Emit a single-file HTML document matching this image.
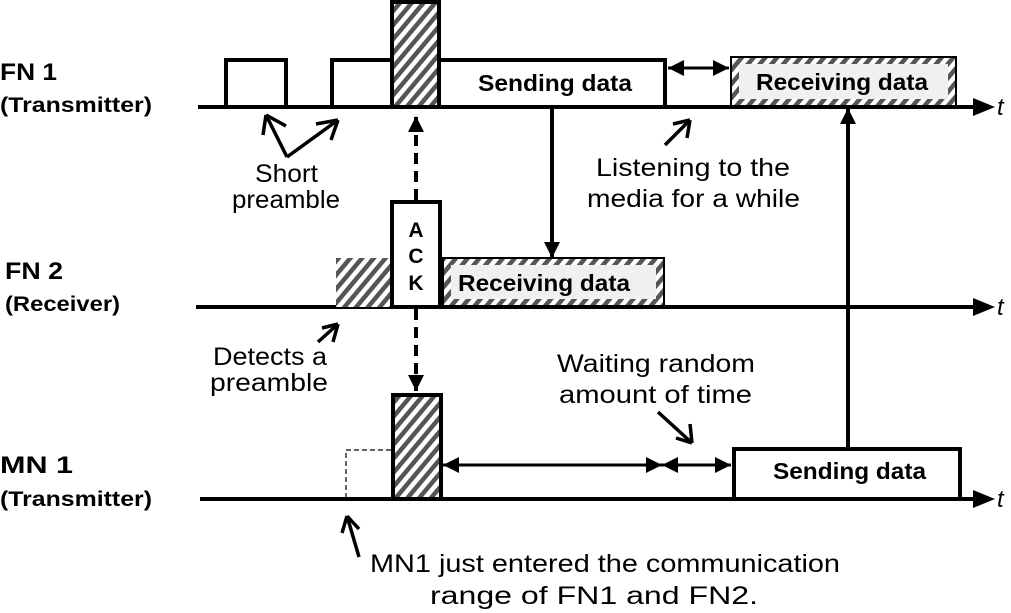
<!DOCTYPE html>
<html><head><meta charset="utf-8"><style>
html,body{margin:0;padding:0;background:#fff;}
svg{display:block;}
text{font-family:"Liberation Sans",sans-serif;}
</style></head><body>
<svg width="1011" height="613" viewBox="0 0 1011 613" xmlns="http://www.w3.org/2000/svg">
<defs>
<pattern id="h" patternUnits="userSpaceOnUse" width="9" height="9" patternTransform="rotate(40)">
<rect width="9" height="9" fill="#fff"/><rect width="4.5" height="9" fill="#555"/>
</pattern>
<marker id="A" viewBox="0 0 10 10" markerWidth="18" markerHeight="16" refX="10" refY="5" orient="auto-start-reverse" markerUnits="userSpaceOnUse"><path d="M0,0 L10,5 L0,10z" fill="#000"/></marker>
</defs>
<g stroke="#000" stroke-width="4" fill="none">
<line x1="198" y1="107" x2="975" y2="107"/>
<line x1="196" y1="307" x2="975" y2="307"/>
<line x1="200" y1="499" x2="975" y2="499"/>
</g>
<path d="M973,98 L995,107 L973,116z M973,298 L995,307 L973,316z M973,490 L995,499 L973,508z"/>
<g font-style="italic" font-size="24"><text x="997" y="115">t</text><text x="997" y="315">t</text><text x="997" y="507">t</text></g>
<!-- FN1 -->
<g stroke="#000" stroke-width="4" fill="none">
<path d="M226,107 V60 H286 V107"/>
<path d="M332,107 V60 H392"/>
<rect x="392" y="2" width="47" height="105" fill="url(#h)"/>
<rect x="439" y="60" width="226" height="47" fill="#fff"/>
</g>
<rect x="731" y="57" width="225" height="49" fill="url(#h)" stroke="#000" stroke-width="2"/>
<rect x="739" y="64" width="209" height="35" fill="#f0f0f0"/>
<text x="478" y="91" font-size="23" font-weight="bold" textLength="154" lengthAdjust="spacingAndGlyphs">Sending data</text>
<text x="756" y="90" font-size="23" font-weight="bold" textLength="172" lengthAdjust="spacingAndGlyphs">Receiving data</text>
<line x1="668" y1="68" x2="729" y2="68" stroke="#000" stroke-width="3" marker-start="url(#A)" marker-end="url(#A)"/>
<!-- FN2 -->
<rect x="336" y="258" width="56" height="49" fill="url(#h)"/>
<rect x="392" y="202" width="48" height="105" fill="#fff" stroke="#000" stroke-width="4"/>
<g font-size="21" font-weight="bold" text-anchor="middle"><text x="416" y="237">A</text><text x="416" y="263">C</text><text x="416" y="290">K</text></g>
<rect x="443" y="258" width="221" height="48" fill="url(#h)" stroke="#000" stroke-width="2"/>
<rect x="451" y="265" width="205" height="34" fill="#f0f0f0"/>
<text x="458" y="291" font-size="23" font-weight="bold" textLength="172" lengthAdjust="spacingAndGlyphs">Receiving data</text>
<!-- MN1 -->
<rect x="346" y="450" width="47" height="49" fill="none" stroke="#000" stroke-width="1.2" stroke-dasharray="5,3"/>
<rect x="393" y="395" width="48" height="104" fill="url(#h)" stroke="#000" stroke-width="4"/>
<rect x="734" y="449" width="226" height="50" fill="#fff" stroke="#000" stroke-width="4"/>
<text x="773" y="479" font-size="23" font-weight="bold" textLength="153" lengthAdjust="spacingAndGlyphs">Sending data</text>
<line x1="443" y1="465" x2="662" y2="465" stroke="#000" stroke-width="3" marker-start="url(#A)" marker-end="url(#A)"/>
<line x1="662" y1="465" x2="731" y2="465" stroke="#000" stroke-width="3" marker-start="url(#A)" marker-end="url(#A)"/>
<!-- vertical arrows -->
<line x1="552" y1="107" x2="552" y2="258" stroke="#000" stroke-width="4" marker-end="url(#A)"/>
<line x1="848" y1="449" x2="848" y2="108" stroke="#000" stroke-width="4" marker-end="url(#A)"/>
<line x1="416" y1="200" x2="416" y2="116" stroke="#000" stroke-width="4" stroke-dasharray="11,7" marker-end="url(#A)"/>
<line x1="416" y1="309" x2="416" y2="391" stroke="#000" stroke-width="4" stroke-dasharray="11,7" marker-end="url(#A)"/>
<!-- annotation arrows -->
<g stroke="#000" stroke-width="3.5" fill="none">
<path d="M287,157 L266,115 M266,115 L263,135 M266,115 L286,126"/>
<path d="M287,157 L338,120 M338,120 L316,124 M338,120 L331,140"/>
<path d="M665,145 L690,120 M690,120 L673,124 M690,120 L687,138"/>
<path d="M318,342 L338,324 M338,324 L322,328 M338,324 L333,342"/>
<path d="M658,412 L692,443 M692,443 L676,438 M692,443 L690,424"/>
<path d="M359,557 L347,516 M347,516 L342,533 M347,516 L359,529"/>
</g>
<!-- labels -->
<g font-weight="bold">
<text x="0" y="80" font-size="24" textLength="57" lengthAdjust="spacingAndGlyphs">FN 1</text>
<text x="0" y="112" font-size="21" textLength="152" lengthAdjust="spacingAndGlyphs">(Transmitter)</text>
<text x="5" y="279" font-size="24" textLength="58" lengthAdjust="spacingAndGlyphs">FN 2</text>
<text x="5" y="311" font-size="21" textLength="115" lengthAdjust="spacingAndGlyphs">(Receiver)</text>
<text x="0" y="473" font-size="24" textLength="73" lengthAdjust="spacingAndGlyphs">MN 1</text>
<text x="0" y="506" font-size="21" textLength="152" lengthAdjust="spacingAndGlyphs">(Transmitter)</text>
</g>
<g font-size="25">
<text x="255" y="182" textLength="63" lengthAdjust="spacingAndGlyphs">Short</text>
<text x="232" y="208" textLength="108" lengthAdjust="spacingAndGlyphs">preamble</text>
<text x="596" y="176" textLength="194" lengthAdjust="spacingAndGlyphs">Listening to the</text>
<text x="587" y="207" textLength="213" lengthAdjust="spacingAndGlyphs">media for a while</text>
<text x="213" y="365" textLength="114" lengthAdjust="spacingAndGlyphs">Detects a</text>
<text x="210" y="391" textLength="118" lengthAdjust="spacingAndGlyphs">preamble</text>
<text x="557" y="372" textLength="198" lengthAdjust="spacingAndGlyphs">Waiting random</text>
<text x="559" y="403" textLength="193" lengthAdjust="spacingAndGlyphs">amount of time</text>
<text x="370" y="572" textLength="470" lengthAdjust="spacingAndGlyphs">MN1 just entered the communication</text>
<text x="430" y="604" textLength="328" lengthAdjust="spacingAndGlyphs">range of FN1 and FN2.</text>
</g>
</svg>
</body></html>
